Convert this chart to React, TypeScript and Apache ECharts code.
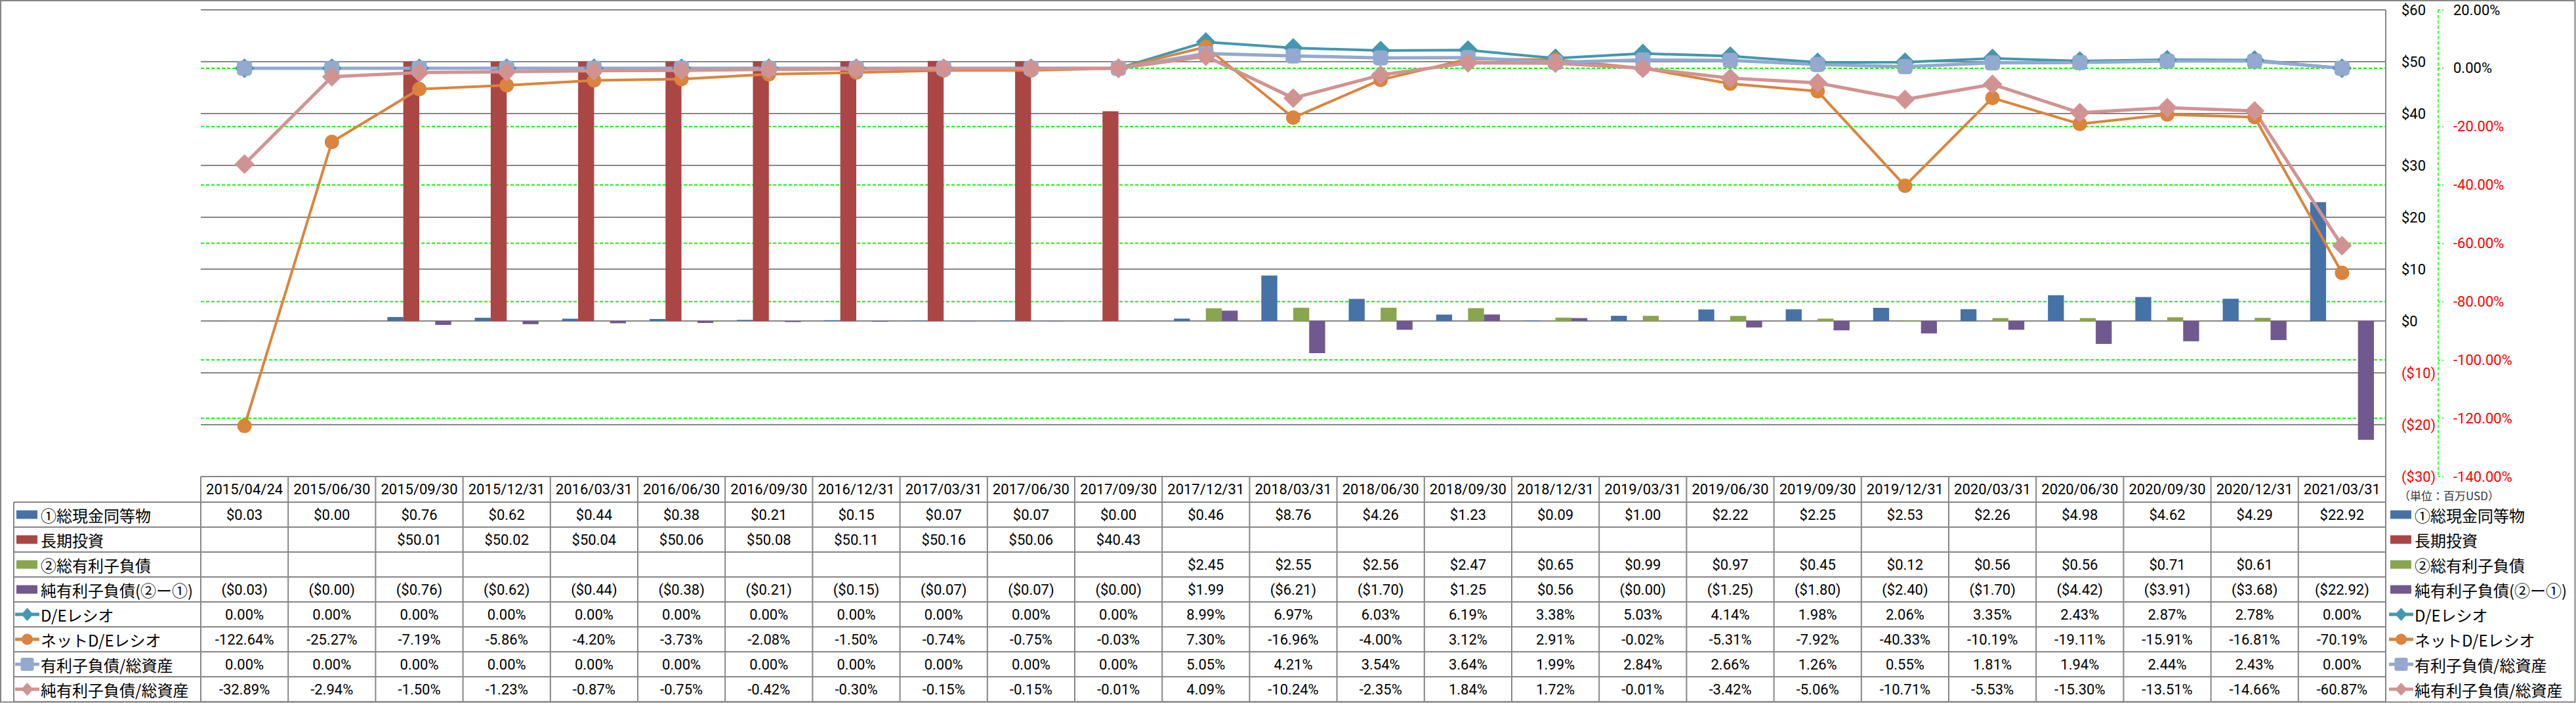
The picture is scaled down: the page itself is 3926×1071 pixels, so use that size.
import React, { useEffect, useRef } from "react";
import * as echarts from "echarts";

// ---------- data ----------
const categories = [
  "2015/04/24", "2015/06/30", "2015/09/30", "2015/12/31", "2016/03/31", "2016/06/30", "2016/09/30", "2016/12/31",
  "2017/03/31", "2017/06/30", "2017/09/30", "2017/12/31", "2018/03/31", "2018/06/30", "2018/09/30", "2018/12/31",
  "2019/03/31", "2019/06/30", "2019/09/30", "2019/12/31", "2020/03/31", "2020/06/30", "2020/09/30", "2020/12/31",
  "2021/03/31",
];

const cash = [0.03, 0.004, 0.76, 0.62, 0.44, 0.38, 0.21, 0.15, 0.07, 0.07, 0.004, 0.46, 8.76, 4.26, 1.23, 0.09, 1.0, 2.22, 2.25, 2.53, 2.26, 4.98, 4.62, 4.29, 22.92];
const longInvest = [null, null, 50.01, 50.02, 50.04, 50.06, 50.08, 50.11, 50.16, 50.06, 40.43, null, null, null, null, null, null, null, null, null, null, null, null, null, null];
const totalDebt = [null, null, null, null, null, null, null, null, null, null, null, 2.45, 2.55, 2.56, 2.47, 0.65, 0.99, 0.97, 0.45, 0.12, 0.56, 0.56, 0.71, 0.61, null];
const netDebt = [-0.03, -0.004, -0.76, -0.62, -0.44, -0.38, -0.21, -0.15, -0.07, -0.07, -0.004, 1.99, -6.21, -1.7, 1.25, 0.56, -0.004, -1.25, -1.8, -2.4, -1.7, -4.42, -3.91, -3.68, -22.92];
const deRatio = [0, 0, 0, 0, 0, 0, 0, 0, 0, 0, 0, 8.99, 6.97, 6.03, 6.19, 3.38, 5.03, 4.14, 1.98, 2.06, 3.35, 2.43, 2.87, 2.78, 0.0];
const netDeRatio = [-122.64, -25.27, -7.19, -5.86, -4.2, -3.73, -2.08, -1.5, -0.74, -0.75, -0.03, 7.3, -16.96, -4.0, 3.12, 2.91, -0.02, -5.31, -7.92, -40.33, -10.19, -19.11, -15.91, -16.81, -70.19];
const debtToAssets = [0, 0, 0, 0, 0, 0, 0, 0, 0, 0, 0, 5.05, 4.21, 3.54, 3.64, 1.99, 2.84, 2.66, 1.26, 0.55, 1.81, 1.94, 2.44, 2.43, 0.0];
const netDebtToAssets = [-32.89, -2.94, -1.5, -1.23, -0.87, -0.75, -0.42, -0.3, -0.15, -0.15, -0.01, 4.09, -10.24, -2.35, 1.84, 1.72, -0.01, -3.42, -5.06, -10.71, -5.53, -15.3, -13.51, -14.66, -60.87];

const seriesNames = [
  "①総現金同等物", "長期投資", "②総有利子負債", "純有利子負債(②ー①)",
  "D/Eレシオ", "ネットD/Eレシオ", "有利子負債/総資産", "純有利子負債/総資産",
];
const seriesData = [cash, longInvest, totalDebt, netDebt, deRatio, netDeRatio, debtToAssets, netDebtToAssets];

const MONEY_MIN = -30, MONEY_MAX = 60, MONEY_STEP = 10;
const PCT_MIN = -140, PCT_MAX = 20, PCT_STEP = 20;
const unitLabel = "（単位：百万USD）";

// ---------- styles ----------
const STYLES = [
  { kind: "bar", color: "#4572A7" },
  { kind: "bar", color: "#AA4643" },
  { kind: "bar", color: "#89A54E" },
  { kind: "bar", color: "#71588F" },
  { kind: "line", color: "#4198AF", symbol: "diamond", size: 30, width: 4 },
  { kind: "line", color: "#DB843D", symbol: "circle", size: 22, width: 4 },
  { kind: "line", color: "#93A9CF", symbol: "roundRect", size: 23, width: 5 },
  { kind: "line", color: "#D19392", symbol: "diamond", size: 30, width: 5 },
];

const LATIN = "Roboto, 'Noto Sans CJK JP', sans-serif";
const JP = "'Noto Sans CJK JP', sans-serif";
const BORDER = "#868686";
const GREEN = "#00ff00";
const SEC_OFFSET = 80;

const fmtMoney = (v: number | null) => {
  if (v === null || v === undefined) return "";
  return v < 0 ? `($${Math.abs(v).toFixed(2)})` : `$${v.toFixed(2)}`;
};
const fmtPct = (v: number | null) => (v === null || v === undefined ? "" : `${v.toFixed(2)}%`);

function legendIcon(x0: number, cy: number, st: any): any[] {
  if (st.kind === "bar") {
    return [{ type: "rect", silent: true, shape: { x: x0 + 2, y: cy - 6.5, width: 32, height: 13 }, style: { fill: st.color } }];
  }
  const els: any[] = [
    { type: "line", silent: true, shape: { x1: x0, y1: cy, x2: x0 + 37, y2: cy }, style: { stroke: st.color, lineWidth: 5 } },
  ];
  const cx = x0 + 18.5;
  if (st.symbol === "diamond") {
    els.push({ type: "polygon", silent: true, shape: { points: [[cx, cy - 10], [cx + 9, cy], [cx, cy + 10], [cx - 9, cy]] }, style: { fill: st.color } });
  } else if (st.symbol === "circle") {
    els.push({ type: "circle", silent: true, shape: { cx, cy, r: 8.5 }, style: { fill: st.color } });
  } else {
    els.push({ type: "rect", silent: true, shape: { x: cx - 10, y: cy - 10, width: 20, height: 20, r: 3 }, style: { fill: st.color } });
  }
  return els;
}

export default function App() {
  const ref = useRef<HTMLDivElement>(null);

  useEffect(() => {
    if (!ref.current) return;
    const chart = echarts.init(ref.current, null, { renderer: "svg" });

    const series: any[] = seriesData.map((d, i) => {
      const st: any = STYLES[i];
      if (st.kind === "bar") {
        return {
          name: seriesNames[i], type: "bar", yAxisIndex: 0, data: d, z: 3,
          itemStyle: { color: st.color }, barGap: "0%", barCategoryGap: "27%",
        };
      }
      return {
        name: seriesNames[i], type: "line", yAxisIndex: 1, data: d, z: 4,
        symbol: st.symbol, symbolSize: st.size, showSymbol: true, showAllSymbol: true,
        lineStyle: { color: st.color, width: st.width },
        itemStyle: { color: st.color },
      };
    });

    chart.setOption({
      animation: false,
      backgroundColor: "#ffffff",
      legend: { show: false },
      tooltip: { show: false },
      grid: { show: false, left: 306, right: 290, top: 15, bottom: 345, containLabel: false, outerBoundsMode: "none" },
      xAxis: {
        show: false,
        type: "category", data: categories, boundaryGap: true,
      },
      yAxis: [
        {
          type: "value", position: "right", min: MONEY_MIN, max: MONEY_MAX, interval: MONEY_STEP,
          axisLine: { show: false },
          axisTick: { show: false },
          splitLine: { show: false },
          axisLabel: {
            margin: 24, fontSize: 22, fontFamily: LATIN,
            formatter: (v: number) => (v < 0 ? `($${-v})` : `$${v}`),
            color: (v: any) => (Number(v) < 0 ? "#ff0000" : "#000000"),
          },
        },
        {
          type: "value", position: "right", offset: SEC_OFFSET, min: PCT_MIN, max: PCT_MAX, interval: PCT_STEP,
          axisLine: { show: false },
          axisTick: { show: true, inside: false, length: 8, lineStyle: { color: GREEN, width: 1.5, type: [3, 3] } },
          splitLine: { show: false },
          axisLabel: {
            margin: 23, fontSize: 22, fontFamily: LATIN,
            formatter: (v: number) => `${v.toFixed(2)}%`,
            color: (v: any) => (Number(v) < 0 ? "#ff0000" : "#000000"),
          },
        },
      ],
      series,
    });

    // ----- geometry from the chart's own scales -----
    const centers = categories.map((_, i) => chart.convertToPixel({ xAxisIndex: 0 }, i) as number);
    const band = centers[1] - centers[0];
    const tLeft = centers[0] - band / 2;
    const tRight = centers[centers.length - 1] + band / 2;
    const tTop = chart.convertToPixel({ yAxisIndex: 0 }, MONEY_MIN) as number;
    const pTop = chart.convertToPixel({ yAxisIndex: 0 }, MONEY_MAX) as number;
    const headerH = 39;
    const rowH = 38;
    const legendLeft = 21;
    const rowsTop = tTop + headerH;
    const tBottom = rowsTop + rowH * seriesNames.length;

    const g: any[] = [];
    const hline = (x1: number, x2: number, y: number) =>
      g.push({ type: "line", silent: true, z: 0, shape: { x1, y1: y, x2, y2: y }, style: { stroke: BORDER, lineWidth: 2 } });
    const vline = (x: number, y1: number, y2: number) =>
      g.push({ type: "line", silent: true, z: 0, shape: { x1: x, y1, x2: x, y2 }, style: { stroke: BORDER, lineWidth: 2 } });

    // outer chart frame
    g.push({ type: "rect", silent: true, z: 0, shape: { x: 1, y: 1, width: 3923.5, height: 1068.5 }, style: { fill: "none", stroke: BORDER, lineWidth: 2 } });

    // secondary (%) gridlines: green dashed, at each tick of the % axis
    for (let v = PCT_MIN + PCT_STEP; v < PCT_MAX; v += PCT_STEP) {
      const y = chart.convertToPixel({ yAxisIndex: 1 }, v) as number;
      g.push({ type: "line", silent: true, z: 0, shape: { x1: tLeft, y1: y, x2: tRight, y2: y }, style: { stroke: GREEN, lineWidth: 2, lineDash: [5, 3] } });
    }
    // primary ($) gridlines: gray solid
    for (let v = MONEY_MIN; v <= MONEY_MAX; v += MONEY_STEP) {
      const y = chart.convertToPixel({ yAxisIndex: 0 }, v) as number;
      hline(tLeft, tRight, y);
    }

    // primary ($) axis line on the right, running down into the table's right border
    vline(tRight, pTop, tBottom);
    // secondary (%) axis line, green dashed
    g.push({
      type: "line", silent: true, z: 0,
      shape: { x1: tRight + SEC_OFFSET, y1: pTop, x2: tRight + SEC_OFFSET, y2: tTop },
      style: { stroke: GREEN, lineWidth: 1.5, lineDash: [5, 3] },
    });

    // ----- data table -----
    for (let r = 0; r <= seriesNames.length; r++) hline(legendLeft, tRight, rowsTop + r * rowH);
    vline(legendLeft, rowsTop, tBottom);
    for (let c = 0; c < categories.length; c++) vline(tLeft + c * band, tTop, tBottom);

    categories.forEach((cat, c) => {
      g.push({
        type: "text", silent: true, x: centers[c], y: tTop + headerH / 2,
        style: { text: cat, fontSize: 22, fontFamily: LATIN, fill: "#000", align: "center", verticalAlign: "middle" },
      });
    });

    seriesNames.forEach((name, r) => {
      const cy = rowsTop + r * rowH + rowH / 2;
      const st = STYLES[r];
      const fmt = st.kind === "bar" ? fmtMoney : fmtPct;
      seriesData[r].forEach((v: any, c: number) => {
        const t = fmt(v);
        if (!t) return;
        g.push({
          type: "text", silent: true, x: centers[c], y: cy,
          style: { text: t, fontSize: 22, fontFamily: LATIN, fill: "#000", align: "center", verticalAlign: "middle" },
        });
      });
      // left legend (inside table)
      g.push(...legendIcon(legendLeft + 2, cy, st));
      g.push({
        type: "text", silent: true, x: legendLeft + 41, y: cy,
        style: { text: name, fontSize: 24, fontFamily: JP, fill: "#000", align: "left", verticalAlign: "middle" },
      });
      // right legend
      const rx = tRight + 5;
      g.push(...legendIcon(rx, cy, st));
      g.push({
        type: "text", silent: true, x: rx + 39, y: cy,
        style: { text: name, fontSize: 24, fontFamily: JP, fill: "#000", align: "left", verticalAlign: "middle" },
      });
    });

    g.push({
      type: "text", silent: true, x: tRight + 20, y: tTop + headerH / 2 + 9,
      style: { text: unitLabel, fontSize: 17, fontFamily: JP, fill: "#333", align: "left", verticalAlign: "middle" },
    });

    chart.setOption({ graphic: { elements: g } });

    return () => chart.dispose();
  }, []);

  return <div ref={ref} style={{ position: "absolute", left: 0, top: 0, width: 3926, height: 1071 }} />;
}
